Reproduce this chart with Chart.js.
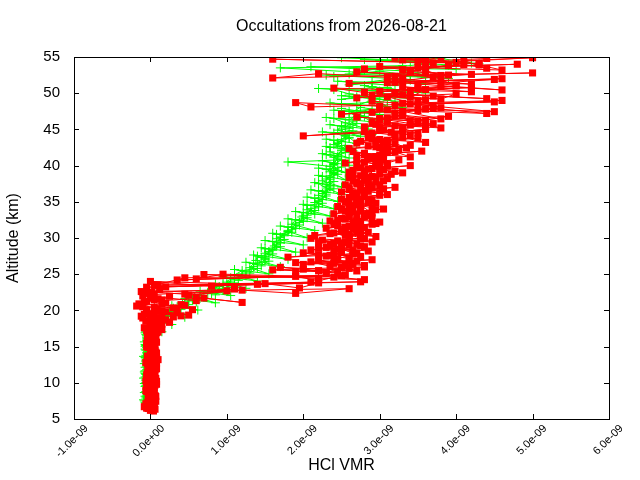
<!DOCTYPE html>
<html><head><meta charset="utf-8">
<script src="https://cdn.jsdelivr.net/npm/chart.js@4"></script>
<style>html,body{margin:0;padding:0;background:#fff}#c{display:block}</style>
</head><body>
<canvas id="c" width="640" height="480"></canvas>
<script>
const chartTitle = 'Occultations from 2026-08-21';
const xTitle = 'HCl VMR';
const yTitle = 'Altitude (km)';
const vmrUnit = 1e-9; // values below are in units of 1e-9
const xMin = -1, xMax = 6, xStep = 1;
const yMin = 5, yMax = 55, yStep = 5;

// Red occultation profiles (squares): shared altitude levels, per-profile altitude offsets
const redLevels = [6.5,7.5,8.5,9.5,10.5,11.5,12.5,13.5,14.5,15.5,
  16.5,17.5,18.5,19.5,20.5,21.5,22.5,23.5,24.5,25.5,
  26.5,27.5,28.5,29.5,30.5,31.5,32.5,33.5,34.5,35.5,
  36.5,37.5,38.5,39.5,40.5,41.5,42.5,43.5,44.5,45.5,
  46.5,47.5,48.5,49.5,50.5,51.5,52.5,53.5,54.5];
const redAltOffsets = [0, 0.4, -0.3, 0.2, -0.4, 0.3, -0.15, 0.5, 0.1, -0.25, 0.45, -0.05];
const red1 = [-0.05,0.00,0.02,-0.03,0.05,0.00,-0.02,0.03,0.06,0.02,
  0.00,0.04,-0.06,0.00,-0.10,0.05,0.02,0.10,0.45,2.20,
  2.40,2.30,2.50,2.55,2.60,2.55,2.70,2.60,2.75,2.70,
  2.80,2.75,2.90,2.85,2.95,2.80,3.00,3.10,2.90,3.20,
  3.00,3.30,3.40,3.10,3.60,3.20,3.90,3.50,4.10];
const red2 = [0.03,-0.02,0.05,0.00,-0.04,0.07,0.02,0.00,-0.03,0.05,
  0.08,0.00,0.10,0.15,-0.15,0.00,0.12,2.10,2.55,2.50,
  2.60,2.70,2.75,2.80,2.70,2.90,2.80,2.95,2.85,3.00,
  2.90,3.05,3.00,3.10,3.05,3.20,3.10,3.30,3.00,3.50,
  3.20,3.70,2.90,4.00,3.30,4.50,3.60,4.30,5.00];
const red3 = [0.00,0.05,-0.03,0.04,0.08,-0.02,0.05,0.10,0.00,0.06,
  0.03,-0.05,0.05,-0.12,0.08,-0.08,0.05,-0.05,0.35,2.30,
  2.80,2.60,2.85,2.70,2.95,2.75,3.00,2.80,2.90,2.85,
  3.00,2.90,3.10,3.20,2.95,3.40,3.05,3.60,3.20,3.80,
  3.40,4.40,3.00,3.80,4.20,3.50,3.10,4.60,3.70];
const red4 = [-0.08,0.02,0.00,0.06,-0.02,0.03,0.08,-0.04,0.02,0.00,
  0.05,0.10,0.20,0.35,0.45,0.70,1.00,1.50,1.90,2.00,
  2.10,2.20,2.30,2.25,2.40,2.45,2.50,2.55,2.60,2.65,
  2.60,2.70,2.65,2.75,2.70,2.80,2.85,2.90,2.80,2.95,
  2.70,3.10,1.90,2.90,2.40,3.30,2.20,3.00,1.60];
const red5 = [0.04,-0.06,0.07,0.02,0.00,-0.05,0.04,0.02,0.08,-0.03,
  0.02,0.08,0.15,0.30,0.55,1.20,0.50,1.95,2.20,2.30,
  2.35,2.45,2.40,2.50,2.60,2.55,2.65,2.70,2.60,2.75,
  2.70,2.85,2.80,2.60,3.00,2.85,3.10,2.70,2.00,3.30,
  3.50,2.50,2.10,3.60,2.80,4.00,1.60,3.40,4.30];
const red6 = [-0.02,0.03,-0.05,0.08,0.04,0.00,-0.06,0.05,0.03,0.07,
  -0.02,0.00,0.05,0.20,0.40,0.60,1.20,2.20,2.50,2.60,
  2.70,2.65,2.80,2.60,2.85,2.70,2.90,2.75,2.95,2.80,
  3.05,2.95,3.15,3.00,3.25,3.10,3.40,3.50,3.30,3.70,
  3.90,3.60,4.50,3.30,4.20,3.80,5.00,3.90,4.40];
const red7 = [0.06,0.00,0.03,-0.05,0.02,0.05,0.00,-0.04,0.05,0.00,
  0.06,0.15,0.25,0.50,0.30,0.60,1.90,0.80,0.60,1.90,
  2.00,1.80,2.10,2.20,2.15,2.30,2.35,2.40,2.45,2.50,
  2.50,2.55,2.60,2.65,2.55,2.70,2.60,2.75,2.85,2.80,
  3.00,2.90,3.20,2.70,3.40,2.60,3.20,2.80,3.50];
const red8 = [0.01,0.04,-0.01,0.03,0.06,-0.03,0.01,0.06,-0.02,0.04,
  0.10,0.05,0.15,-0.05,0.20,-0.10,2.60,0.00,0.95,2.80,
  2.90,2.50,2.60,2.75,2.50,2.95,2.60,3.05,2.70,3.10,
  3.20,2.80,3.30,3.40,2.90,3.55,3.20,3.20,3.60,3.10,
  3.30,3.80,4.60,3.20,4.00,4.60,3.40,4.80,3.80];
const red9 = [-0.04,0.05,0.01,-0.02,0.07,0.03,-0.04,0.00,0.04,0.08,
  0.04,-0.08,0.00,0.05,-0.18,0.10,-0.12,1.40,2.40,1.60,
  1.90,2.35,2.20,2.45,2.35,2.60,2.55,2.65,2.70,2.60,
  2.75,2.85,2.75,2.90,3.00,3.05,2.95,3.00,3.15,3.40,
  3.10,3.50,3.30,3.70,3.50,3.20,4.20,3.60,3.30];
const red10 = [0.02,-0.04,0.06,0.05,-0.06,0.02,0.06,-0.02,0.07,0.01,
  -0.04,0.06,0.12,0.40,0.35,-0.05,0.45,0.20,2.80,2.45,
  2.55,2.40,2.65,2.40,2.75,2.65,2.75,2.85,2.75,2.90,
  2.65,3.00,2.85,2.80,3.10,2.95,3.25,3.05,3.40,3.00,
  3.60,3.20,3.70,4.40,3.00,4.20,3.70,3.30,4.00];
const red11 = [0.05,0.01,-0.06,0.00,0.03,0.08,0.03,0.04,-0.05,0.03,
  0.00,0.02,-0.10,0.08,0.15,0.25,1.10,2.75,0.70,1.70,
  2.20,2.00,2.35,2.10,2.50,2.40,2.60,2.50,2.55,2.65,
  2.60,2.65,2.80,2.70,2.85,2.65,2.95,2.85,3.05,2.90,
  3.30,3.00,3.50,3.20,3.80,3.30,2.70,4.10,3.20];
const red12 = [-0.03,0.07,0.04,0.01,-0.01,-0.04,0.07,0.08,0.01,-0.05,
  0.07,-0.02,0.02,-0.08,0.05,0.15,-0.05,0.05,2.20,2.70,
  2.65,2.75,2.45,2.90,2.55,2.80,2.45,2.90,2.65,2.70,
  2.85,2.70,2.95,3.05,2.80,3.00,3.35,2.95,3.50,3.60,
  3.80,4.50,3.50,3.40,4.60,3.10,3.80,4.40,3.60];

// Green profiles (crosses)
const greenLevels = [7.5,8.5,9.5,10.5,11.5,12.5,13.5,14.5,15.5,16.5,
  17.5,18.5,19.5,20.5,21.5,22.5,23.5,24.5,25.5,26.5,
  27.5,28.5,29.5,30.5,31.5,32.5,33.5,34.5,35.5,36.5,
  37.5,38.5,39.5,40.5,41.5,42.5,43.5,44.5,45.5,46.5,
  47.5,48.5,49.5,50.5,51.5,52.5,53.5,54.5];
const greenAltOffsets = [0, 0.3, -0.35, 0.55, -0.2, 0.15, -0.45, 0.4];
const green1 = [-0.08,-0.05,-0.07,-0.06,-0.08,-0.05,-0.07,-0.06,-0.04,-0.05,
  0.00,0.08,0.20,0.35,0.55,0.75,0.95,1.05,1.20,1.35,
  1.40,1.50,1.60,1.65,1.80,1.90,2.00,2.05,2.15,2.20,
  2.20,2.25,2.30,1.80,2.30,2.35,2.40,2.40,2.50,2.40,
  2.60,2.50,2.70,2.40,2.90,2.30,1.70,3.00];
const green2 = [-0.04,-0.06,-0.03,-0.07,-0.05,-0.04,-0.06,-0.03,-0.05,-0.02,
  0.10,0.20,0.32,0.50,0.70,0.95,1.10,1.25,1.40,1.55,
  1.60,1.70,1.75,1.85,1.95,2.05,2.15,2.25,2.30,2.40,
  2.40,2.45,2.50,2.50,2.55,2.55,2.60,2.65,2.70,2.80,
  2.90,3.00,3.20,3.10,3.40,3.50,3.30,3.80];
const green3 = [-0.06,-0.07,-0.05,-0.04,-0.06,-0.07,-0.05,-0.05,-0.06,-0.04,
  0.05,0.12,0.22,0.40,0.60,0.85,1.00,1.15,1.30,1.45,
  1.50,1.55,1.65,1.70,1.85,1.95,2.05,2.15,2.20,2.25,
  2.30,2.30,2.35,2.40,2.40,2.50,2.45,2.55,2.60,3.00,
  2.60,3.10,2.50,3.30,2.60,3.60,2.80,4.20];
const green4 = [-0.05,-0.04,-0.06,-0.05,-0.03,-0.06,-0.04,-0.07,-0.05,-0.06,
  0.08,0.15,0.28,0.45,0.65,0.90,1.05,1.20,1.35,1.50,
  1.55,1.65,1.70,1.80,1.90,2.00,2.10,2.20,2.30,2.35,
  2.35,2.40,2.40,2.45,2.50,2.45,2.55,2.50,2.65,2.70,
  2.75,2.90,3.00,2.80,3.20,3.00,3.60,3.10];
const green5 = [-0.07,-0.05,-0.04,-0.06,-0.07,-0.05,-0.06,-0.04,-0.07,-0.05,
  0.03,0.10,0.18,0.30,0.50,0.80,0.90,1.10,1.25,1.40,
  1.45,1.60,1.70,1.75,1.90,2.00,2.15,2.20,2.25,2.30,
  2.35,2.35,2.45,2.40,2.45,2.55,2.50,2.90,2.55,2.60,
  3.20,2.70,3.40,3.00,3.60,2.40,4.00,3.40];
const green6 = [-0.09,-0.08,-0.06,-0.09,-0.07,-0.08,-0.09,-0.07,-0.08,-0.06,
  -0.02,0.05,0.15,0.28,0.45,0.65,0.85,0.95,1.10,1.25,
  1.35,1.45,1.50,1.60,1.70,1.80,1.90,2.00,2.05,2.10,
  2.15,2.20,2.20,2.25,2.25,2.30,2.30,2.25,2.35,2.30,
  2.40,2.35,2.50,2.20,2.45,2.60,2.10,2.80];
const green7 = [-0.03,-0.02,-0.04,-0.03,-0.02,-0.03,-0.02,-0.04,-0.03,-0.01,
  0.15,0.28,0.45,0.62,0.85,1.05,1.25,1.40,1.55,1.70,
  1.80,1.90,2.00,2.05,2.15,2.25,2.35,2.40,2.45,2.50,
  2.50,2.55,2.55,2.60,2.60,2.65,2.70,2.75,2.85,2.90,
  3.00,3.30,3.10,3.60,3.20,3.90,3.40,4.30];
const green8 = [-0.06,-0.03,-0.08,-0.05,-0.04,-0.06,-0.03,-0.05,-0.04,-0.07,
  0.06,0.18,0.25,0.42,0.58,0.80,1.00,1.10,1.30,1.38,
  1.50,1.62,1.65,1.80,1.85,1.98,2.05,2.15,2.20,2.30,
  2.25,2.40,2.35,2.45,2.35,2.40,2.60,2.45,2.55,2.75,
  2.50,3.20,2.60,2.90,3.40,2.70,3.90,2.50];

const redProfiles = [red1, red2, red3, red4, red5, red6, red7, red8, red9, red10, red11, red12];
const greenProfiles = [green1, green2, green3, green4, green5, green6, green7, green8];

// points ordered level by level, profile by profile
function buildPoints(levels, offsets, profiles) {
  const pts = [];
  levels.forEach((alt, i) => {
    profiles.forEach((p, k) => {
      if (p[i] !== null && p[i] !== undefined) pts.push({x: p[i], y: alt + offsets[k]});
    });
  });
  return pts;
}

function fmtExp(v) {
  const s = (v * vmrUnit).toExponential(1);
  return s.replace(/e([+-])(\d)$/, 'e$10$2');
}

const frame = {
  id: 'frame',
  afterDatasetsDraw(chart) {
    const {ctx, chartArea: a, scales: {x, y}} = chart;
    ctx.save();
    ctx.strokeStyle = '#000';
    ctx.lineWidth = 1;
    ctx.beginPath();
    x.ticks.forEach(t => {
      const px = Math.round(x.getPixelForValue(t.value)) + 0.5;
      ctx.moveTo(px, a.bottom); ctx.lineTo(px, a.bottom - 5);
      ctx.moveTo(px, a.top); ctx.lineTo(px, a.top + 5);
    });
    y.ticks.forEach(t => {
      const py = Math.round(y.getPixelForValue(t.value)) + 0.5;
      ctx.moveTo(a.left, py); ctx.lineTo(a.left + 5, py);
      ctx.moveTo(a.right, py); ctx.lineTo(a.right - 5, py);
    });
    ctx.stroke();
    ctx.strokeRect(Math.round(a.left) + 0.5, Math.round(a.top) + 0.5,
      Math.round(a.right - a.left), Math.round(a.bottom - a.top));
    ctx.restore();
  }
};

Chart.defaults.font.family = '"Liberation Sans", Arial, sans-serif';
Chart.defaults.color = '#000';

new Chart(document.getElementById('c'), {
  type: 'scatter',
  data: {
    datasets: [
      {
        label: 'red',
        data: buildPoints(redLevels, redAltOffsets, redProfiles),
        showLine: true,
        borderColor: '#ff0000',
        backgroundColor: '#ff0000',
        borderWidth: 1,
        pointStyle: 'rect',
        pointRadius: 5,
        pointBorderWidth: 0,
        pointBackgroundColor: '#ff0000',
        pointHoverRadius: 5,
        clip: 0
      },
      {
        label: 'green',
        data: buildPoints(greenLevels, greenAltOffsets, greenProfiles),
        showLine: true,
        borderColor: '#00ff00',
        backgroundColor: '#00ff00',
        borderWidth: 1,
        pointStyle: 'cross',
        pointRadius: 4.5,
        pointBorderWidth: 1,
        pointBorderColor: '#00ff00',
        pointHoverRadius: 4.5,
        clip: 0
      }
    ]
  },
  options: {
    responsive: false,
    animation: false,
    devicePixelRatio: 1,
    layout: {padding: {left: 0, right: 31, top: 0, bottom: 0}},
    plugins: {
      legend: {display: false},
      tooltip: {enabled: false},
      title: {
        display: true,
        fullSize: false,
        text: chartTitle,
        font: {size: 16, weight: 'normal'},
        color: '#000',
        padding: {top: 17, bottom: 20.8}
      }
    },
    scales: {
      x: {
        type: 'linear',
        min: xMin, max: xMax,
        afterFit: s => { s.height = 61; },
        grid: {display: false, drawTicks: false},
        border: {display: false},
        ticks: {
          stepSize: xStep,
          autoSkip: false,
          minRotation: 45, maxRotation: 45,
          font: {size: 11},
          color: '#000',
          padding: 3,
          labelOffset: 12.5,
          callback: v => fmtExp(v)
        },
        title: {display: true, text: xTitle, font: {size: 16}, color: '#000', padding: {top: 0, bottom: 5}}
      },
      y: {
        type: 'linear',
        min: yMin, max: yMax,
        afterFit: s => { s.width = 74; },
        grid: {display: false, drawTicks: false},
        border: {display: false},
        ticks: {stepSize: yStep, font: {size: 15}, color: '#000', padding: 14},
        title: {display: true, text: yTitle, font: {size: 16}, color: '#000', padding: {top: 4.4, bottom: 0}}
      }
    }
  },
  plugins: [frame]
});
</script>
</body></html>
